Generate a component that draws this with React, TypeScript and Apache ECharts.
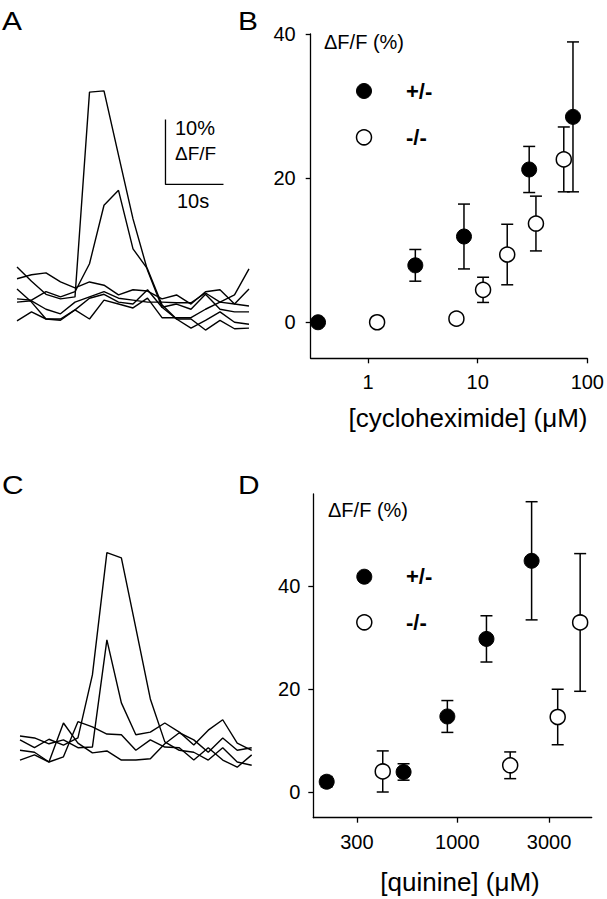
import React, { useEffect, useRef } from "react";
import * as echarts from "echarts";

const FONT = "'Liberation Sans', Arial, Helvetica, sans-serif";

// time of each imaging frame (s)
const frameTimes = [0, 2.5, 5, 7.5, 10, 12.5, 15, 17.5, 20, 22.5, 25, 27.5, 30, 32.5, 35, 37.5, 40];

// Panel A: cycloheximide responses, ΔF/F (%)
const traceA1 = [10.0, 7.8, 5.8, 5.1, 5.4, 36.9, 37.1, 27.2, 17.4, 9.5, 3.8, 2.0, 2.0, 0.3, 1.8, 0.5, 0.6];
const traceA2 = [5.1, 4.9, 6.2, 5.4, 6.2, 10.5, 19.5, 21.8, 12.8, 9.7, 4.2, 2.0, 0.6, 1.8, 3.1, 1.5, 1.2];
const traceA3 = [8.2, 8.8, 9.1, 7.7, 6.8, 7.7, 7.2, 5.7, 6.5, 6.3, 5.1, 5.7, 4.3, 6.2, 6.5, 4.3, 6.6];
const traceA4 = [6.6, 4.6, 2.0, 2.0, 3.4, 5.2, 5.8, 4.6, 4.3, 6.5, 3.8, 4.3, 3.5, 5.8, 3.5, 3.1, 3.1];
const traceA5 = [4.6, 4.8, 3.5, 2.8, 4.6, 5.4, 6.2, 5.2, 4.9, 4.6, 4.6, 4.5, 4.5, 6.0, 4.6, 5.7, 9.7];
const traceA6 = [1.7, 3.1, 2.0, 1.8, 3.4, 2.0, 4.9, 4.3, 3.7, 5.2, 2.2, 2.2, 2.2, 3.5, 4.6, 4.3, 4.0];

// Panel C: quinine responses, ΔF/F (%)
const traceC1 = [5.4, 4.2, 5.5, 4.6, 5.7, 15.4, 34.2, 33.4, 22.6, 11.7, 5.1, 3.8, 3.5, 2.3, 4.2, 2.0, 1.5];
const traceC2 = [6.0, 5.7, 4.8, 5.4, 4.2, 4.3, 20.8, 11.1, 6.2, 6.6, 8.0, 6.6, 4.6, 6.9, 8.5, 4.9, 3.8];
const traceC3 = [3.8, 3.5, 2.0, 2.8, 8.2, 7.4, 6.3, 6.2, 3.8, 5.4, 4.3, 4.2, 2.3, 4.2, 2.3, 1.2, 3.1];
const traceC4 = [2.3, 3.1, 2.0, 8.0, 4.9, 3.4, 3.7, 2.3, 2.3, 2.5, 4.8, 6.5, 5.4, 3.5, 5.7, 3.8, 4.2];

// scale bar (panel A): corner at (s, %), lengths
const scaleBarCorner = [25.6, 22.7];
const scaleBarSeconds = 10;
const scaleBarPercent = 10;

// Panel B: cycloheximide dose-response
const chxHetConc = [0.35, 2.7, 7.5, 29.5, 74];
const chxHetResp = [0, 7.9, 11.9, 21.2, 28.5];
const chxHetSem = [0, 2.2, 4.5, 3.2, 10.4];
const chxKoConc = [1.21, 6.4, 11.2, 18.6, 34, 61];
const chxKoResp = [0, 0.5, 4.5, 9.4, 13.7, 22.6];
const chxKoSem = [0, 0, 1.75, 4.2, 3.8, 4.5];

// Panel D: quinine dose-response
const quiHetConc = [209, 525, 887, 1417, 2434];
const quiHetResp = [2, 3.9, 14.7, 29.8, 45];
const quiHetSem = [1, 1.6, 3.1, 4.5, 11.5];
const quiKoConc = [409, 1883, 3327, 4354];
const quiKoResp = [4, 5.2, 14.6, 33];
const quiKoSem = [4, 2.6, 5.4, 13.4];

const chxTicks = [1, 10, 100];
const quiTicks = [300, 1000, 3000];
const respTicks = [0, 20, 40];

const HET = "+/-";
const KO = "-/-";

const lg = (v: number) => Math.log10(v);

function traceSeries(trace: number[], idx: number) {
  return {
    type: "line",
    xAxisIndex: idx,
    yAxisIndex: idx,
    data: frameTimes.map((t, i) => [t, trace[i]]),
    symbol: "none",
    showSymbol: false,
    silent: true,
    clip: false,
    lineStyle: { color: "#000", width: 1.4 },
  };
}

function errSeries(conc: number[], resp: number[], sem: number[], idx: number) {
  return {
    type: "custom",
    xAxisIndex: idx,
    yAxisIndex: idx,
    silent: true,
    z: 1,
    clip: false,
    data: conc.map((c, i) => [lg(c), resp[i], sem[i]]),
    renderItem: (params: any, api: any) => {
      const x = api.value(0);
      const y = api.value(1);
      const e = api.value(2);
      if (!e) return null;
      const top = api.coord([x, y + e]);
      const bot = api.coord([x, y - e]);
      const w = 6;
      const st = { stroke: "#000", lineWidth: 1.5 };
      return {
        type: "group",
        children: [
          { type: "line", shape: { x1: top[0], y1: top[1], x2: bot[0], y2: bot[1] }, style: st },
          { type: "line", shape: { x1: top[0] - w, y1: top[1], x2: top[0] + w, y2: top[1] }, style: st },
          { type: "line", shape: { x1: bot[0] - w, y1: bot[1], x2: bot[0] + w, y2: bot[1] }, style: st },
        ],
      };
    },
  };
}

function dotSeries(name: string, conc: number[], resp: number[], idx: number, filled: boolean) {
  return {
    type: "scatter",
    name,
    xAxisIndex: idx,
    yAxisIndex: idx,
    z: 3,
    clip: false,
    symbol: "circle",
    symbolSize: 15,
    silent: true,
    itemStyle: filled
      ? { color: "#000", borderColor: "#000", borderWidth: 1, opacity: 1 }
      : { color: "#fff", borderColor: "#000", borderWidth: 1.5, opacity: 1 },
    data: conc.map((c, i) => [lg(c), resp[i]]),
  };
}

function hiddenAxis(idx: number, min: number, max: number) {
  return { type: "value", gridIndex: idx, min, max, show: false };
}

function logXAxis(idx: number, min: number, max: number, ticks: number[]) {
  const tv = ticks.map(lg);
  return {
    type: "value",
    gridIndex: idx,
    min: lg(min),
    max: lg(max),
    splitLine: { show: false },
    axisLine: { show: true, onZero: false, lineStyle: { color: "#000", width: 1.3 } },
    axisTick: { show: true, inside: false, length: 5, customValues: tv, lineStyle: { color: "#000", width: 1.3 } },
    axisLabel: {
      show: true,
      customValues: tv,
      margin: 14,
      color: "#000",
      fontFamily: FONT,
      fontSize: 20,
      formatter: (v: number) => String(Math.round(Math.pow(10, v))),
    },
  };
}

function respYAxis(idx: number, min: number, max: number, margin: number) {
  return {
    type: "value",
    gridIndex: idx,
    min,
    max,
    splitLine: { show: false },
    axisLine: { show: true, onZero: false, lineStyle: { color: "#000", width: 1.3 } },
    axisTick: { show: true, inside: false, length: 5, customValues: respTicks, lineStyle: { color: "#000", width: 1.3 } },
    axisLabel: { show: true, customValues: respTicks, margin, color: "#000", fontFamily: FONT, fontSize: 20 },
  };
}

function txt(x: number, y: number, text: string, fontSize: number, opts: any = {}) {
  return {
    type: "text",
    x,
    y,
    silent: true,
    scaleX: opts.scaleX ?? 1,
    style: {
      text,
      fill: "#000",
      fontFamily: FONT,
      fontSize,
      fontWeight: opts.bold ? "bold" : "normal",
      align: opts.align ?? "left",
      verticalAlign: "middle",
      textAlign: opts.align ?? "left",
      textVerticalAlign: "middle",
    },
  };
}

function legendMark(cx: number, cy: number, filled: boolean) {
  return {
    type: "circle",
    silent: true,
    shape: { cx, cy, r: 7.5 },
    style: filled ? { fill: "#000", stroke: "#000", lineWidth: 1 } : { fill: "#fff", stroke: "#000", lineWidth: 1.5 },
  };
}

export default function App() {
  const ref = useRef<HTMLDivElement>(null);
  useEffect(() => {
    document.body.style.margin = "0";
    if (!ref.current) return;
    const chart = echarts.init(ref.current, null, { renderer: "svg" });
    const [sbT, sbV] = scaleBarCorner;
    const option: any = {
      animation: false,
      backgroundColor: "#fff",
      grid: [
        { left: 17, top: 72, width: 232, height: 260 },
        { left: 310.7, top: 34, width: 277, height: 324.3 },
        { left: 20, top: 515, width: 231.7, height: 260 },
        { left: 313.3, top: 494, width: 278.4, height: 323.7 },
      ],
      xAxis: [
        hiddenAxis(0, 0, 40),
        logXAxis(1, 0.3, 100, chxTicks),
        hiddenAxis(2, 0, 40),
        logXAxis(3, 178, 5000, quiTicks),
      ],
      yAxis: [
        hiddenAxis(0, 0, 40),
        respYAxis(1, -5, 40, 15),
        hiddenAxis(2, 0, 40),
        respYAxis(3, -5, 58, 13),
      ],
      series: [
        traceSeries(traceA1, 0),
        traceSeries(traceA2, 0),
        traceSeries(traceA3, 0),
        traceSeries(traceA4, 0),
        traceSeries(traceA5, 0),
        traceSeries(traceA6, 0),
        {
          type: "line",
          xAxisIndex: 0,
          yAxisIndex: 0,
          symbol: "none",
          silent: true,
          clip: false,
          lineStyle: { color: "#000", width: 1.3 },
          data: [
            [sbT, sbV + scaleBarPercent],
            [sbT, sbV],
            [sbT + scaleBarSeconds, sbV],
          ],
        },
        traceSeries(traceC1, 2),
        traceSeries(traceC2, 2),
        traceSeries(traceC3, 2),
        traceSeries(traceC4, 2),
        errSeries(chxHetConc, chxHetResp, chxHetSem, 1),
        errSeries(chxKoConc, chxKoResp, chxKoSem, 1),
        dotSeries(HET, chxHetConc, chxHetResp, 1, true),
        dotSeries(KO, chxKoConc, chxKoResp, 1, false),
        errSeries(quiHetConc, quiHetResp, quiHetSem, 3),
        errSeries(quiKoConc, quiKoResp, quiKoSem, 3),
        dotSeries(HET, quiHetConc, quiHetResp, 3, true),
        dotSeries(KO, quiKoConc, quiKoResp, 3, false),
      ],
      graphic: [
        txt(2, 21, "A", 26, { scaleX: 1.15 }),
        txt(238, 21, "B", 26, { scaleX: 1.15 }),
        txt(2, 485, "C", 26, { scaleX: 1.15 }),
        txt(238, 485, "D", 26, { scaleX: 1.15 }),
        txt(175, 128, "10%", 20),
        txt(175, 153, "ΔF/F", 19),
        txt(177, 201, "10s", 20),
        txt(324, 42, "ΔF/F (%)", 20),
        legendMark(364, 91, true),
        txt(406, 91, HET, 22, { bold: true }),
        legendMark(364, 137.3, false),
        txt(406, 137.3, KO, 22, { bold: true }),
        txt(468, 418, "[cycloheximide] (μM)", 26, { align: "center" }),
        txt(328, 510, "ΔF/F (%)", 20),
        legendMark(364.3, 576.7, true),
        txt(406, 576.7, HET, 22, { bold: true }),
        legendMark(364.3, 622.3, false),
        txt(406, 622.3, KO, 22, { bold: true }),
        txt(460, 882, "[quinine] (μM)", 26, { align: "center" }),
      ],
    };
    chart.setOption(option);
    return () => chart.dispose();
  }, []);
  return <div ref={ref} style={{ width: 607, height: 899, background: "#fff" }} />;
}
